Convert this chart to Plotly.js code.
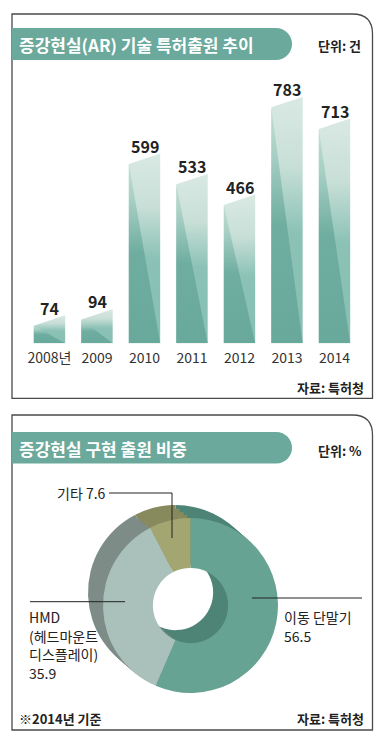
<!DOCTYPE html>
<html><head><meta charset="utf-8">
<script src="https://cdn.plot.ly/plotly-3.0.1.min.js"></script>
<style>html,body{margin:0;padding:0;background:#fff;}#chart{width:383px;height:740px;}</style>
</head><body><div id="chart"></div>
<script>
// ---- data ----
const years = ['2008년', '2009', '2010', '2011', '2012', '2013', '2014'];
const filings = [74, 94, 599, 533, 466, 783, 713];
const shareLabels = ['이동 단말기', 'HMD', '기타'];
const shareLabelLines = [['이동 단말기'], ['HMD', '(헤드마운트', '디스플레이)'], ['기타']];
const shareValues = [56.5, 35.9, 7.6];

// ---- helpers ----
const W = 383, H = 740;
const fx = x => x / W, fy = y => 1 - y / H;
const FONT = '"Noto Sans CJK KR", "Noto Sans", sans-serif';
function P(cmds) {
  return cmds.map(c => {
    if (c.length === 1) return c[0];
    const pts = [];
    for (let k = 1; k < c.length; k += 2) pts.push(fx(c[k]).toFixed(5) + ',' + fy(c[k + 1]).toFixed(5));
    return c[0] + ' ' + pts.join(' ');
  }).join(' ');
}
function panel(top, bottom) {
  const L = 12, R = 372.5, r = 20;
  return {type: 'path', xref: 'paper', yref: 'paper', line: {color: '#4a4a4a', width: 1.3},
    path: P([['M', L, bottom], ['L', L, top], ['L', R - r, top], ['Q', R, top, R, top + r], ['L', R, bottom], ['Z']])};
}
function pill(top, bottom, right) {
  const r = (bottom - top) / 2, k = 0.5523 * r, c = right - r, m = top + r;
  return {type: 'path', xref: 'paper', yref: 'paper', line: {width: 0}, fillcolor: '#6aa99b',
    path: P([['M', 12, top], ['L', c, top], ['C', c + k, top, right, m - k, right, m], ['C', right, m + k, c + k, bottom, c, bottom], ['L', 12, bottom], ['Z']])};
}
function seg(x0, y0, x1, y1) {
  return {type: 'line', xref: 'paper', yref: 'paper', x0: fx(x0), y0: fy(y0), x1: fx(x1), y1: fy(y1), line: {color: '#222', width: 1}};
}
function txt(text, x, y, anchor, size, weight, color) {
  return {text, xref: 'paper', yref: 'paper', x: fx(x), y: fy(y), xanchor: anchor, yanchor: 'middle', showarrow: false, borderpad: 0,
    align: anchor === 'right' ? 'right' : 'left', font: {family: FONT, size, color: color || '#222', weight: weight || 400}};
}

// ---- bar traces (slanted bars) ----
const HW = 0.33, SL = 17;
const traces = [];
filings.forEach((v, i) => {
  traces.push({type: 'scatter', mode: 'lines', x: [i - HW, i - HW, i + HW, i + HW, i - HW], y: [0, v - SL, v + SL, 0, 0],
    fill: 'toself', line: {width: 0, color: 'rgba(0,0,0,0)'}, fillcolor: '#8cc2b6',
    fillgradient: {type: 'vertical', colorscale: [[0, '#86bfb3'], [0.45, '#8cc2b6'], [0.72, '#c8dfd7'], [1, '#d9e9e3']]},
    hoverinfo: 'skip', showlegend: false});
  traces.push({type: 'scatter', mode: 'lines', x: [i - HW, i - HW, i + HW, i - HW], y: [0, v - SL, 0, 0],
    fill: 'toself', line: {width: 0, color: 'rgba(0,0,0,0)'}, fillcolor: '#6aa99b',
    fillgradient: {type: 'vertical', colorscale: [[0, '#69a99b'], [0.5, '#6ead9f'], [0.8, '#a7cfc4'], [1, '#c0dfd5']]},
    hoverinfo: 'skip', showlegend: false});
});

// ---- donut (with offset side layers for 3D look) ----
const cx = 190.5, cy = 605.5, R = 87.5;
const sideColors = ['#4d8476', '#7e8c87', '#878a5d'];
const frontColors = ['#67a393', '#aac0ba', '#a4a672'];
function donut(dx, dy, colors) {
  return {type: 'pie', values: shareValues, labels: shareLabels, sort: false, direction: 'clockwise', rotation: 0,
    hole: 0.43, textinfo: 'none', hoverinfo: 'label+value', marker: {colors, line: {width: 0}}, showlegend: false,
    domain: {x: [fx(cx + dx - R), fx(cx + dx + R)], y: [fy(cy + dy + R), fy(cy + dy - R)]}};
}
[[-15, -13], [-11, -9.5], [-7, -6], [-3.5, -3]].forEach(([dx, dy]) => traces.push(donut(dx, dy, sideColors)));
traces.push(donut(0, 0, frontColors));

// ---- annotations ----
const annotations = [];
filings.forEach((v, i) => annotations.push({text: String(v), xref: 'x', yref: 'y', x: i, y: v, yshift: 13, yanchor: 'middle', xanchor: 'center',
  showarrow: false, font: {family: FONT, size: 16, color: '#222', weight: 700}}));
annotations.push(txt('증강현실(AR) 기술 특허출원 추이', 18, 44.5, 'left', 17, 700, '#fff'));
annotations.push(txt('단위: 건', 362, 45, 'right', 13, 700));
annotations.push(txt('자료: 특허청', 365, 387, 'right', 13, 700));
annotations.push(txt('증강현실 구현 출원 비중', 18, 448, 'left', 17, 700, '#fff'));
annotations.push(txt('단위: %', 363, 450, 'right', 13, 700));
annotations.push(txt('※2014년 기준', 18, 718, 'left', 13, 700));
annotations.push(txt('자료: 특허청', 365, 718, 'right', 13, 700));
// donut labels, one annotation per line
const LS = 18.6;
function block(lines, x, yFirst, anchor) {
  lines.forEach((t, k) => annotations.push(txt(t, x, yFirst + k * LS, anchor, 14)));
}
block(shareLabelLines[0].concat([shareValues[0].toFixed(1)]), 283, 617, 'left');
block(shareLabelLines[1].concat([shareValues[1].toFixed(1)]), 28, 617, 'left');
block([shareLabelLines[2][0] + ' ' + shareValues[2].toFixed(1)], 107, 493, 'right');

// ---- shapes ----
const shapes = [
  panel(14, 398.3), panel(415, 730),
  pill(28, 60, 292), pill(432, 463.5, 292),
  seg(109, 493, 172, 493), seg(172, 493, 172, 538),
  seg(30, 601.7, 125, 601.7),
  seg(252, 598, 362, 598)
];

const layout = {
  width: W, height: H, margin: {l: 0, r: 0, t: 0, b: 0}, paper_bgcolor: '#fff', plot_bgcolor: 'rgba(0,0,0,0)',
  font: {family: FONT, color: '#222'}, showlegend: false,
  xaxis: {domain: [fx(25.75), fx(358.25)], range: [-0.5, 6.5], tickmode: 'array', tickvals: years.map((_, i) => i), ticktext: years,
    showgrid: false, zeroline: false, showline: false, ticks: '', ticklabelstandoff: 5, tickfont: {family: FONT, size: 14, color: '#333'}, fixedrange: true},
  yaxis: {domain: [fy(343.3), fy(81.5)], range: [0, 850], visible: false, fixedrange: true},
  shapes, annotations
};
Plotly.newPlot('chart', traces, layout, {staticPlot: true, displayModeBar: false});
</script>
</body></html>
